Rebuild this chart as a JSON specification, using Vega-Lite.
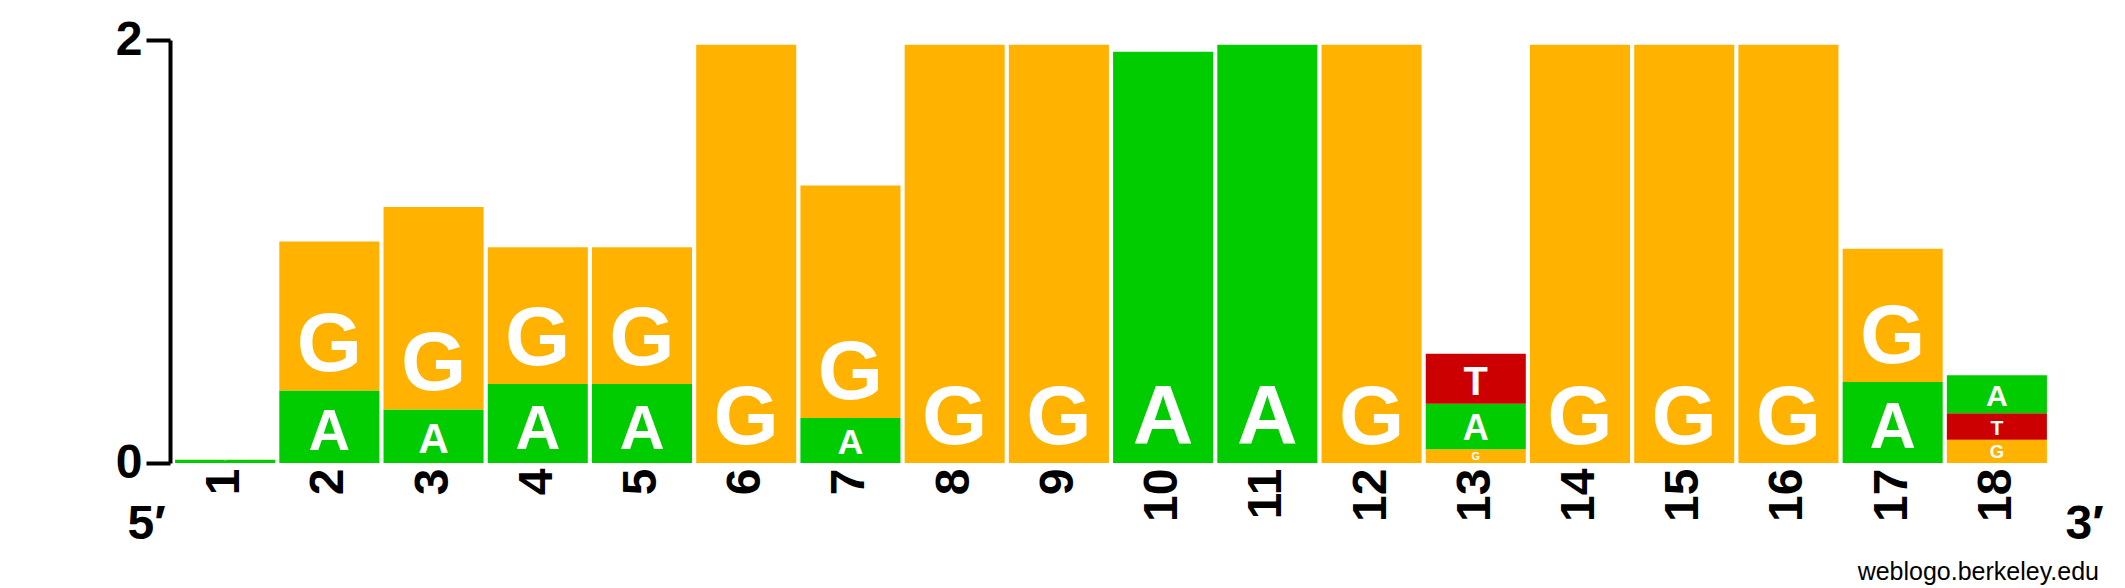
{
  "$schema": "https://vega.github.io/schema/vega-lite/v6.json",
  "width": 1876,
  "height": 423,
  "autosize": {"type": "none"},
  "padding": {"left": 173, "top": 40, "right": 76, "bottom": 125},
  "background": "white",
  "config": {"view": {"stroke": null}, "font": "Liberation Sans"},
  "title": {
    "text": "weblogo.berkeley.edu",
    "orient": "bottom",
    "anchor": "end",
    "frame": "group",
    "fontSize": 25,
    "fontWeight": "normal",
    "font": "Liberation Sans",
    "color": "black",
    "dx": 50,
    "offset": 12
  },
  "data": {
    "values": [
      {"pos": 1, "letter": "A", "bits": 0.015},
      {"pos": 2, "letter": "A", "bits": 0.343},
      {"pos": 2, "letter": "G", "bits": 0.704},
      {"pos": 3, "letter": "A", "bits": 0.253},
      {"pos": 3, "letter": "G", "bits": 0.957},
      {"pos": 4, "letter": "A", "bits": 0.373},
      {"pos": 4, "letter": "G", "bits": 0.647},
      {"pos": 5, "letter": "A", "bits": 0.373},
      {"pos": 5, "letter": "G", "bits": 0.647},
      {"pos": 6, "letter": "G", "bits": 1.978},
      {"pos": 7, "letter": "A", "bits": 0.213},
      {"pos": 7, "letter": "G", "bits": 1.099},
      {"pos": 8, "letter": "G", "bits": 1.978},
      {"pos": 9, "letter": "G", "bits": 1.978},
      {"pos": 10, "letter": "A", "bits": 1.944},
      {"pos": 11, "letter": "A", "bits": 1.978},
      {"pos": 12, "letter": "G", "bits": 1.978},
      {"pos": 13, "letter": "G", "bits": 0.065},
      {"pos": 13, "letter": "A", "bits": 0.215},
      {"pos": 13, "letter": "T", "bits": 0.237},
      {"pos": 14, "letter": "G", "bits": 1.978},
      {"pos": 15, "letter": "G", "bits": 1.978},
      {"pos": 16, "letter": "G", "bits": 1.978},
      {"pos": 17, "letter": "A", "bits": 0.383},
      {"pos": 17, "letter": "G", "bits": 0.63},
      {"pos": 18, "letter": "G", "bits": 0.11},
      {"pos": 18, "letter": "T", "bits": 0.125},
      {"pos": 18, "letter": "A", "bits": 0.18}
    ]
  },
  "transform": [
    {"stack": "bits", "groupby": ["pos"], "sort": [{"field": "bits", "order": "ascending"}], "as": ["y0", "y1"]}
  ],
  "encoding": {
    "x": {
      "field": "pos",
      "type": "ordinal",
      "scale": {"paddingInner": 0.04, "paddingOuter": 0.02},
      "axis": {
        "title": "3′",
        "labelAngle": 270,
        "labelFontSize": 48,
        "labelFontWeight": "bold",
        "labelFont": "Liberation Sans",
        "labelColor": "black",
        "labelPadding": 5,
        "ticks": false,
        "domain": false,
        "titleX": 1892,
        "titleY": 75,
        "titleAngle": 0,
        "titleAlign": "left",
        "titleBaseline": "alphabetic",
        "titleFontSize": 48,
        "titleFontWeight": "bold",
        "titleFont": "Liberation Sans",
        "titleColor": "black"
      }
    }
  },
  "layer": [
    {
      "mark": {"type": "bar"},
      "encoding": {
        "y": {
          "field": "y0",
          "type": "quantitative",
          "scale": {"domain": [0, 2], "nice": false},
          "axis": {
            "title": "5′",
            "values": [0, 1, 2],
            "format": "d",
            "grid": false,
            "offset": 3,
            "tickSize": 24,
            "tickWidth": 4,
            "tickColor": "black",
            "domainWidth": 4,
            "domainColor": "black",
            "labelFontSize": 48,
            "labelFontWeight": "bold",
            "labelFont": "Liberation Sans",
            "labelColor": "black",
            "labelPadding": 4,
            "titleAngle": 0,
            "titleAlign": "left",
            "titleBaseline": "alphabetic",
            "titleX": -43,
            "titleY": 498,
            "titleFontSize": 48,
            "titleFontWeight": "bold",
            "titleFont": "Liberation Sans",
            "titleColor": "black"
          }
        },
        "y2": {"field": "y1"},
        "color": {
          "field": "letter",
          "type": "nominal",
          "scale": {"domain": ["A", "C", "G", "T"], "range": ["#00CC00", "#0000CC", "#FFB300", "#CC0000"]},
          "legend": null
        }
      }
    },
    {
      "mark": {"type": "text", "baseline": "bottom", "dy": -1, "color": "white", "fontWeight": "bold", "font": "Liberation Sans"},
      "encoding": {
        "y": {"field": "y0", "type": "quantitative"},
        "text": {"field": "letter"},
        "size": {"field": "bits", "type": "quantitative", "scale": {"domain": [0, 0.5], "range": [0, 84], "clamp": true}, "legend": null}
      }
    }
  ]
}
